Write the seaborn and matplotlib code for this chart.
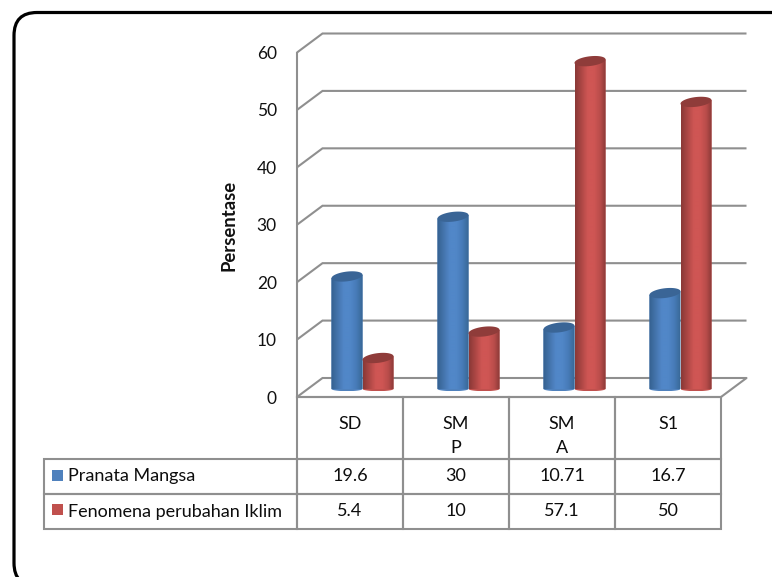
import numpy as np
import pandas as pd
import matplotlib
matplotlib.use("Agg")
import matplotlib.pyplot as plt
import seaborn as sns
from matplotlib.colors import LinearSegmentedColormap
from matplotlib.patches import FancyBboxPatch, PathPatch, Rectangle
from matplotlib.path import Path
from matplotlib.transforms import IdentityTransform

categories = ["SD", "SM\nP", "SM\nA", "S1"]
series_names = ["Pranata Mangsa", "Fenomena perubahan Iklim"]
pranata = [19.6, 30, 10.71, 16.7]
fenomena = [5.4, 10, 57.1, 50]
y_ticks = [0, 10, 20, 30, 40, 50, 60]
y_label = "Persentase"

W, H = 772, 577
GRID = "#8f8f8f"
BASE = ["#4f81bd", "#c0504d"]
TOP = ["#3a6596", "#8f3c3a"]
RAMP = [
    ["#34608f", "#4474ac", "#5187c8", "#5187c8", "#477bb8", "#386795"],
    ["#8a3937", "#ad4745", "#cf5654", "#cf5654", "#b84c4a", "#833634"],
]

sns.set_theme(style="white")
plt.rcParams["font.family"] = ["Lato", "DejaVu Sans"]

fig = plt.figure(figsize=(W / 100, H / 100), dpi=100, facecolor="white")


def rect(left, right, top, bottom):
    return [left / W, (H - bottom) / H, (right - left) / W, (bottom - top) / H]


# rounded outer frame, running off the right and bottom edges
fig.add_artist(FancyBboxPatch((14, H - 586), 810, 573.5,
                              boxstyle="round,pad=0,rounding_size=23",
                              fc="white", ec="black", lw=2.3,
                              transform=IdentityTransform(), zorder=-5))

# front plane: value axis and data table
ft = fig.add_axes(rect(297, 721, 52.5, 397))
ft.patch.set_visible(False)
ft.set_xlim(-0.5, 3.5)
ft.set_ylim(0, 60)
ft.set_xticks([])
ft.set_yticks(y_ticks, [str(t) for t in y_ticks], fontsize=12.5, color="#111111")
ft.tick_params(axis="y", length=0, pad=14.5)
sns.despine(ax=ft, top=True, right=True, bottom=False, left=False)
ft.spines["left"].set_color(GRID)
ft.spines["left"].set_linewidth(1.5)
ft.spines["bottom"].set_color(GRID)
ft.spines["bottom"].set_linewidth(1.5)
ft.set_ylabel(y_label, fontsize=13.3, fontweight="bold", color="#111111", va="center")
ft.yaxis.set_label_coords((229 - 297) / 424, (397 - 225) / 344.5)

# back wall grid and floor, shifted by the chart depth
DEPTH = np.array([25.5, 19.0])
for t in y_ticks:
    a = ft.transData.transform((-0.5, t))
    b = ft.transData.transform((3.5, t))
    ft.plot([a[0], a[0] + DEPTH[0], b[0] + DEPTH[0]],
            [a[1], a[1] + DEPTH[1], b[1] + DEPTH[1]],
            color=GRID, lw=1.5, transform=IdentityTransform(), clip_on=False,
            solid_joinstyle="miter", solid_capstyle="butt")
    if t == 0:
        ft.plot([b[0], b[0] + DEPTH[0]], [b[1], b[1] + DEPTH[1]],
                color=GRID, lw=1.5, transform=IdentityTransform(), clip_on=False)
ft.set_xlim(-0.5, 3.5)
ft.set_ylim(0, 60)

# data table
cell_text = [[""] * 5,
             [series_names[0]] + [f"{v:g}" for v in pranata],
             [series_names[1]] + [f"{v:g}" for v in fenomena]]
tbl_h = 529 - 397
tbl = ft.table(cellText=cell_text, colWidths=[253, 106, 106, 106, 106],
               cellLoc="center",
               bbox=[(44 - 297) / 424, -tbl_h / 344.5, (721 - 44) / 424, tbl_h / 344.5])
tbl.auto_set_font_size(False)
tbl.set_fontsize(13)
row_h = [62, 35, 35]
for (r, c), cell in tbl.get_celld().items():
    cell.set_height(row_h[r])
    cell.set_edgecolor(GRID)
    cell.set_linewidth(1.5)
    cell.set_facecolor("none")
    cell.get_text().set_color("#0d0d0d")
    if c == 0:
        cell.get_text().set_ha("left")
        cell.PAD = 24.5 / 253
tbl[(0, 0)].visible_edges = ""
for i, cat in enumerate(categories):
    ft.annotate(cat, xy=(i, 0), xytext=(0, -19), textcoords="offset pixels",
                ha="center", va="top", fontsize=13, color="#0d0d0d",
                linespacing=1.65, annotation_clip=False)
for (y0, col) in zip((470, 504), BASE):
    fig.add_artist(Rectangle((52, H - y0 - 11), 11, 11, fc=col, ec="none",
                             transform=IdentityTransform(), zorder=5))

# bars in their own plane, set back half the depth
ax = fig.add_axes(rect(309.5, 733.5, 44.5, 389))
ax.patch.set_visible(False)
ax.set_zorder(3)
df = pd.DataFrame({
    "cat": categories * 2,
    "value": pranata + fenomena,
    "series": [series_names[0]] * 4 + [series_names[1]] * 4,
})
sns.barplot(data=df, x="cat", y="value", hue="series", order=categories,
            hue_order=series_names, palette=BASE, width=0.585, gap=0,
            dodge=True, saturation=1, legend=False, ax=ax)
ax.set_xlim(-0.5, 3.5)
ax.set_ylim(0, 60)
ax.axis("off")

TILT = 0.3        # value units: rise of the cap across half a bar
CAP = 0.85        # value units: half height of the cap
FOOT = 0.38       # value units: depth of the rounded foot
bars = list(ax.patches)
for n, patch in enumerate(bars):
    s = n // 4
    x, w, v = patch.get_x(), patch.get_width(), patch.get_height()
    cx = x + w / 2
    t = np.linspace(np.pi, 2 * np.pi, 40)
    foot_x = cx + w / 2 * np.cos(t)
    foot_y = FOOT * np.sin(t)
    xs = np.r_[foot_x, x + w, x]
    ys = np.r_[foot_y, v + TILT, v - TILT]
    sil = Path(np.c_[np.r_[xs, xs[0]], np.r_[ys, ys[0]]])
    clip = PathPatch(sil, transform=ax.transData)
    patch.set_y(-FOOT)
    patch.set_height(v + FOOT + TILT)
    patch.set_zorder(2 + s)
    patch.set_edgecolor("none")
    patch.set_linewidth(0)
    patch.set_clip_path(clip)
    patch.set_clip_box(None)
    cmap = LinearSegmentedColormap.from_list(f"c{s}", RAMP[s])
    im = ax.imshow(np.linspace(0, 1, 64)[None, :], cmap=cmap, aspect="auto",
                   extent=[x, x + w, -FOOT, v + TILT], zorder=2.1 + s,
                   interpolation="bilinear")
    im.set_clip_path(clip)
    im.set_clip_box(None)
    t = np.linspace(0, 2 * np.pi, 60)
    ax.fill(cx + w / 2 * np.cos(t), v + CAP * np.sin(t) + TILT * np.cos(t),
            color=TOP[s], lw=0, zorder=2.2 + s, clip_on=False)
ax.set_xlim(-0.5, 3.5)
ax.set_ylim(0, 60)

fig.savefig("out.png", dpi=100)
